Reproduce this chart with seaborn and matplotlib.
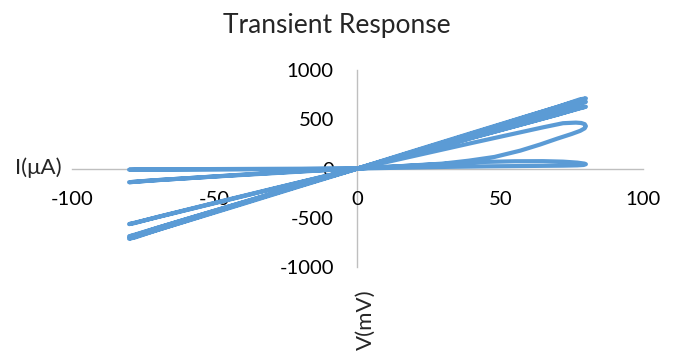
import pandas as pd
import matplotlib.pyplot as plt
import seaborn as sns

# I-V sweep loops, V in mV and I in uA
loop_a_v = [0, 20, 40, 60, 75, 80, 78, 70, 50, 30, 10, 0]
loop_a_i = [0, 182, 362, 540, 672, 715, 706, 628, 446, 266, 88, 0]

loop_b_v = [0, -20, -40, -60, -75, -80, -78, -70, -50, -30, -10, 0]
loop_b_i = [0, -180, -360, -538, -672, -716, -704, -626, -444, -264, -86, 0]

loop_c_v = [0, 20, 40, 60, 75, 80, 78, 70, 50, 30, 10, 0]
loop_c_i = [0, 170, 340, 510, 638, 680, 668, 592, 420, 250, 82, 0]

loop_d_v = [0, -20, -40, -60, -75, -80, -78, -70, -50, -30, -10, 0]
loop_d_i = [0, -172, -344, -516, -648, -692, -680, -604, -430, -256, -84, 0]

loop_e_v = [0, 20, 40, 60, 75, 80, 78, 70, 50, 30, 10, 0]
loop_e_i = [0, 155, 312, 470, 590, 630, 618, 548, 390, 232, 76, 0]

loop_f_v = [0, -20, -40, -60, -75, -80, -78, -70, -50, -30, -10, 0]
loop_f_i = [0, -140, -282, -424, -530, -567, -556, -494, -350, -208, -68, 0]

# switching loop with the rounded tip near 450 uA
loop_g_v = [0, 15, 30, 39, 48, 57, 64, 70, 75, 78, 79.6, 80, 79.6, 78.4, 76.5,
            72, 65, 55, 40, 25, 10, 0]
loop_g_i = [0, 24, 50, 80, 118, 182, 245, 305, 352, 384, 410, 432, 452, 464, 468,
            462, 420, 356, 260, 162, 64, 0]

loop_h_v = [0, -20, -40, -60, -75, -80, -78, -70, -50, -30, -10, 0]
loop_h_i = [0, -28, -62, -100, -128, -140, -136, -118, -82, -48, -15, 0]

# small loop lying on the axis
loop_k_v = [0, 15, 30, 43, 55, 65, 72, 77, 79.5, 80, 79.2, 77, 72, 60, 45, 30, 15, 0]
loop_k_i = [0, 22, 46, 66, 74, 75, 70, 60, 50, 44, 36, 32, 29, 26, 22, 16, 8, 0]

loop_l_v = [0, -20, -40, -60, -75, -80, -78, -70, -50, -30, -10, 0]
loop_l_i = [0, -6, -9, -11, -12, -12, -10, -8, -6, -4, -2, 0]

loops = [
    (loop_a_v, loop_a_i), (loop_b_v, loop_b_i), (loop_c_v, loop_c_i),
    (loop_d_v, loop_d_i), (loop_e_v, loop_e_i), (loop_f_v, loop_f_i),
    (loop_g_v, loop_g_i), (loop_h_v, loop_h_i), (loop_k_v, loop_k_i),
    (loop_l_v, loop_l_i),
]
v_all, i_all = [], []
for v, i in loops:
    v_all += v
    i_all += i
df = pd.DataFrame({"V": v_all, "I": i_all})

x_ticks = [-100, -50, 0, 50, 100]
y_ticks = [-1000, -500, 0, 500, 1000]

sns.set_style("white")
plt.rcParams["font.family"] = ["Lato", "DejaVu Sans"]
plt.rcParams["axes.unicode_minus"] = False

fig = plt.figure(figsize=(6.83, 3.54), dpi=100)
ax = fig.add_axes([0.1054, 0.247, 0.836, 0.554])

sns.lineplot(data=df, x="V", y="I", sort=False, estimator=None, ax=ax,
             color="#5B9BD5", linewidth=3.0, solid_joinstyle="round",
             solid_capstyle="round")

ax.set_xlim(-100, 100)
ax.set_ylim(-1000, 1000)
ax.set_xticks(x_ticks)
ax.set_yticks(y_ticks)
ax.set_xticklabels([str(t) for t in x_ticks])
ax.set_yticklabels([str(t) for t in y_ticks])
ax.set_xlabel("")
ax.set_ylabel("")

for side in ["top", "right"]:
    ax.spines[side].set_visible(False)
for side in ["left", "bottom"]:
    ax.spines[side].set_position(("data", 0))
    ax.spines[side].set_color("#BFBFBF")
    ax.spines[side].set_linewidth(1.0)
    ax.spines[side].set_zorder(0)

ax.tick_params(axis="x", length=0, pad=16, labelsize=14.6, labelcolor="black")
ax.tick_params(axis="y", length=0, pad=17, labelsize=14.6, labelcolor="black")

fig.text(337 / 683, 1 - 25 / 354, "Transient Response", ha="center", va="center",
         fontsize=19)
fig.text(62 / 683, 1 - 168 / 354, "I(μA)", ha="right", va="center", fontsize=16)
fig.text(366 / 683, 1 - 320 / 354, "V(mV)", ha="center", va="center",
         rotation=90, fontsize=16)

fig.savefig("out.png", dpi=100)
